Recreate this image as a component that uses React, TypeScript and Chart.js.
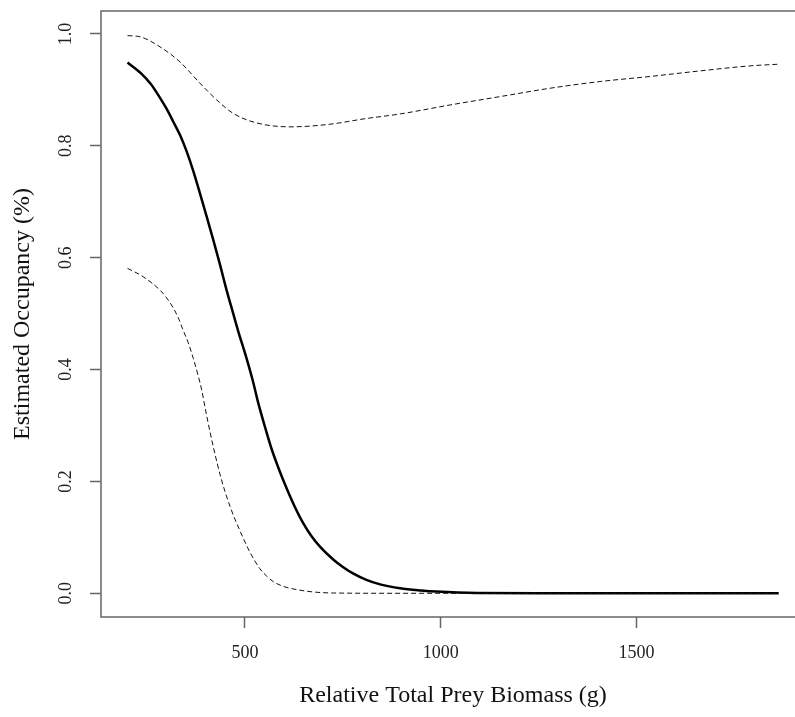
import React, { useEffect, useRef } from "react";
import { Chart, registerables } from "chart.js";

Chart.register(...registerables);

// Tick values and labels
const xTicks = [500, 1000, 1500];
const yTicks = [0, 0.2, 0.4, 0.6, 0.8, 1.0];
const yTickLabels = ["0.0", "0.2", "0.4", "0.6", "0.8", "1.0"];

// Fitted occupancy (solid line)
const fitX = [200, 234, 260, 281, 300, 317, 335, 351, 368, 385, 402, 419, 436, 453, 470, 483, 504, 520, 534, 550, 568, 585, 602, 625, 649, 670, 692, 726, 750, 777, 810, 845, 896, 950, 989, 1092, 1300, 1863];
const fitY = [0.949, 0.93, 0.91, 0.888, 0.866, 0.843, 0.818, 0.79, 0.755, 0.715, 0.674, 0.632, 0.588, 0.542, 0.5, 0.468, 0.42, 0.38, 0.34, 0.3, 0.258, 0.225, 0.195, 0.158, 0.125, 0.102, 0.083, 0.06, 0.047, 0.035, 0.024, 0.016, 0.009, 0.005, 0.003, 0.0005, 0, 0];

// Upper confidence bound (dashed)
const upperX = [200, 232, 283, 334, 385, 428, 470, 530, 615, 709, 811, 896, 1023, 1151, 1279, 1407, 1534, 1662, 1790, 1863];
const upperY = [0.997, 0.995, 0.977, 0.95, 0.912, 0.882, 0.858, 0.841, 0.834, 0.838, 0.849, 0.857, 0.873, 0.888, 0.903, 0.915, 0.924, 0.934, 0.943, 0.946];

// Lower confidence bound (dashed)
const lowerX = [200, 240, 283, 300, 317, 330, 340, 355, 368, 380, 389, 402, 419, 440, 462, 487, 513, 538, 555, 572, 595, 615, 666, 726, 900, 1300, 1863];
const lowerY = [0.581, 0.566, 0.542, 0.528, 0.51, 0.492, 0.474, 0.448, 0.42, 0.39, 0.365, 0.318, 0.262, 0.203, 0.155, 0.112, 0.073, 0.044, 0.031, 0.021, 0.013, 0.009, 0.003, 0.0005, 0, 0, 0];

const FONT = "'Liberation Serif', 'DejaVu Serif', serif";

export default function App() {
  const ref = useRef<HTMLCanvasElement>(null);

  useEffect(() => {
    const canvas = ref.current;
    if (!canvas) return;

    const boxPlugin = {
      id: "rbox",
      afterDraw(chart: any) {
        const { ctx, chartArea: a, scales } = chart;
        ctx.save();
        ctx.strokeStyle = "#666";
        ctx.lineWidth = 1.5;
        ctx.strokeRect(a.left, a.top, a.right - a.left, a.bottom - a.top);
        ctx.fillStyle = "#222";
        ctx.font = `18px ${FONT}`;
        ctx.textAlign = "center";
        ctx.textBaseline = "middle";
        yTicks.forEach((v, i) => {
          const y = scales.y.getPixelForValue(v);
          ctx.save();
          ctx.translate(66.7, y);
          ctx.rotate(-Math.PI / 2);
          ctx.fillText(yTickLabels[i], 0, 0);
          ctx.restore();
        });
        ctx.restore();
      },
    };

    const toPts = (xs: number[], ys: number[]) => xs.map((x, i) => ({ x, y: ys[i] }));

    const chart = new Chart(canvas, {
      type: "line",
      data: {
        datasets: [
          {
            data: toPts(upperX, upperY),
            borderColor: "#111",
            borderWidth: 1,
            borderDash: [5, 3],
            pointRadius: 0,
            cubicInterpolationMode: "monotone",
            fill: false,
          },
          {
            data: toPts(lowerX, lowerY),
            borderColor: "#111",
            borderWidth: 1,
            borderDash: [5, 3],
            pointRadius: 0,
            cubicInterpolationMode: "monotone",
            fill: false,
          },
          {
            data: toPts(fitX, fitY),
            borderColor: "#000",
            borderWidth: 2.5,
            borderJoinStyle: "round",
            pointRadius: 0,
            cubicInterpolationMode: "monotone",
            fill: false,
          },
        ],
      },
      options: {
        responsive: false,
        animation: false,
        layout: { padding: { left: 0, top: 11, right: 5, bottom: 0 } },
        plugins: { legend: { display: false }, tooltip: { enabled: false } },
        scales: {
          x: {
            type: "linear",
            min: 132.3,
            max: 1930.1,
            afterBuildTicks: (s: any) => {
              s.ticks = xTicks.map((v) => ({ value: v }));
            },
            afterFit: (s: any) => {
              s.height = 100;
            },
            border: { display: false },
            grid: {
              display: true,
              drawOnChartArea: false,
              drawTicks: true,
              tickLength: 11,
              tickColor: "#666",
              tickWidth: 1.5,
            },
            ticks: {
              color: "#222",
              font: { family: FONT, size: 18 },
              padding: 14,
              maxRotation: 0,
              minRotation: 0,
              autoSkip: false,
              callback: (v: any) => String(v),
            },
            title: {
              display: true,
              text: "Relative Total Prey Biomass (g)",
              color: "#111",
              font: { family: FONT, size: 24 },
              padding: { top: 0, bottom: 7 },
            },
          },
          y: {
            type: "linear",
            min: -0.0424,
            max: 1.0411,
            afterBuildTicks: (s: any) => {
              s.ticks = yTicks.map((v) => ({ value: v }));
            },
            afterFit: (s: any) => {
              s.width = 101;
            },
            border: { display: false },
            grid: {
              display: true,
              drawOnChartArea: false,
              drawTicks: true,
              tickLength: 11,
              tickColor: "#666",
              tickWidth: 1.5,
            },
            ticks: { display: false },
            title: {
              display: true,
              text: "Estimated Occupancy (%)",
              color: "#111",
              font: { family: FONT, size: 24 },
              padding: { top: 8, bottom: 0 },
            },
          },
        },
      },
      plugins: [boxPlugin],
    } as any);

    return () => chart.destroy();
  }, []);

  return (
    <div
      style={{
        position: "fixed",
        left: 0,
        top: 0,
        width: 795,
        height: 717,
        overflow: "hidden",
        background: "#fff",
      }}
    >
      <canvas ref={ref} width={810} height={717} style={{ width: 810, height: 717, display: "block" }} />
    </div>
  );
}
